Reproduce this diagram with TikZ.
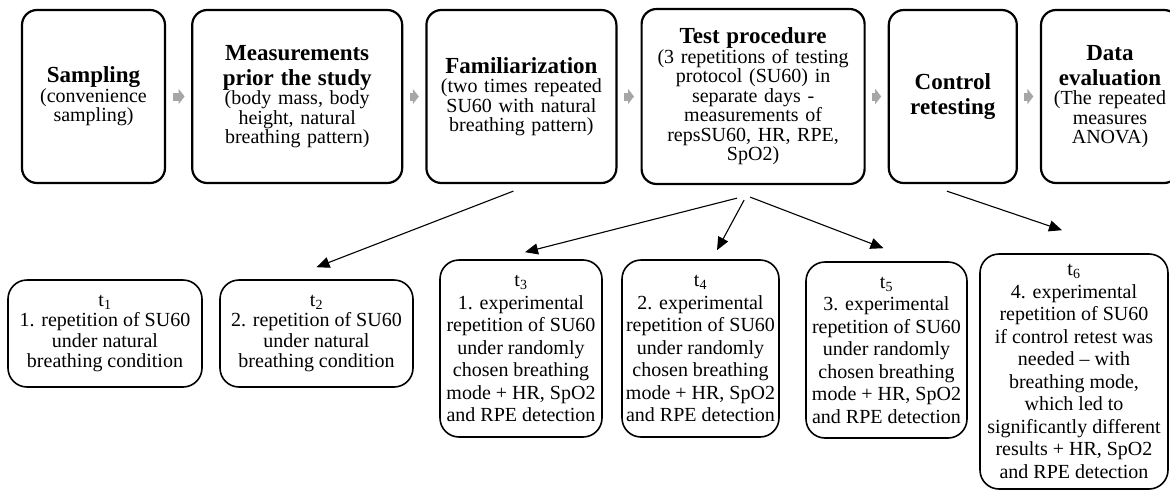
\documentclass[tikz,border=0pt]{standalone}
\usepackage{fontspec}
\setmainfont{Liberation Serif}
\usepackage{tikz}
\usetikzlibrary{arrows.meta, positioning}

\begin{document}
\begin{tikzpicture}[
    x=1pt, y=1pt,
    node distance=22pt,
    stage/.style={rectangle, draw=black, line width=2.2pt, rounded corners=15pt,
                  align=center, minimum height=173pt, inner sep=2pt,
                  font=\fontsize{20}{19.5}\selectfont},
    trial/.style={rectangle, draw=black, line width=1.6pt, rounded corners=19pt,
                  align=center, inner sep=2pt,
                  font=\fontsize{20}{22.5}\selectfont},
    flow/.style={-{Triangle[length=6pt,width=15pt]}, line width=8pt, black!35,
                 shorten <=6.5pt, shorten >=6.5pt},
    arrow/.style={-{Triangle[length=13pt,width=11pt]}, line width=1.1pt}
]
    \useasboundingbox (0,0) rectangle (1170,-490);

    % top row
    \node[stage, minimum width=143pt, text width=139pt] (sampling) at (93.5,-96.5)
        {{\fontsize{23}{25}\selectfont\bfseries Sampling\par}(convenience\\sampling)};
    \node[stage, minimum width=210pt, text width=206pt] (prior) [right=25pt of sampling]
        {{\fontsize{23}{25}\selectfont\bfseries Measurements\\prior the study\par}
         (body mass, body\\height, natural\\breathing pattern)};
    \node[stage, minimum width=190pt, text width=186pt] (famil) [right=of prior]
        {{\fontsize{23}{25}\selectfont\bfseries Familiarization\par}
         (two times repeated\\SU60 with natural\\breathing pattern)};
    \node[stage, minimum width=223pt, text width=219pt, minimum height=175pt] (test) [right=23pt of famil]
        {{\fontsize{23}{25}\selectfont\bfseries Test procedure\par}
         (3 repetitions of testing\\protocol (SU60) in\\separate days -\\
         measurements of\\repsSU60, HR, RPE,\\SpO2)};
    \node[stage, minimum width=128pt, text width=124pt] (control) [right=of test]
        {{\fontsize{23}{25}\selectfont\bfseries Control\\retesting\par}};
    \node[stage, minimum width=138pt, text width=134pt] (evalu) [right=of control]
        {{\fontsize{23}{25}\selectfont\bfseries Data\\evaluation\par}
         (The repeated\\measures\\ANOVA)};

    % bottom row
    \node[trial, minimum width=194pt, minimum height=107pt,
          font=\fontsize{20}{20.5}\selectfont] (t1) at (105,-333.5)
        {t\textsubscript{1}\\1. repetition of SU60\\under natural\\breathing condition};
    \node[trial, minimum width=193pt, minimum height=107pt,
          font=\fontsize{20}{20.5}\selectfont] (t2) at (316.5,-333.5)
        {t\textsubscript{2}\\2. repetition of SU60\\under natural\\breathing condition};
    \node[trial, minimum width=162pt, minimum height=177pt] (t3) at (521,-348.5)
        {t\textsubscript{3}\\1. experimental\\repetition of SU60\\under randomly\\
         chosen breathing\\mode + HR, SpO2\\and RPE detection};
    \node[trial, minimum width=157pt, minimum height=177pt] (t4) at (700.5,-348.5)
        {t\textsubscript{4}\\2. experimental\\repetition of SU60\\under randomly\\
         chosen breathing\\mode + HR, SpO2\\and RPE detection};
    \node[trial, minimum width=161pt, minimum height=176pt] (t5) at (886.5,-350)
        {t\textsubscript{5}\\3. experimental\\repetition of SU60\\under randomly\\
         chosen breathing\\mode + HR, SpO2\\and RPE detection};
    \node[trial, minimum width=188pt, minimum height=235pt] (t6) at (1074,-371.5)
        {t\textsubscript{6}\\4. experimental\\repetition of SU60\\if control retest was\\
         needed -- with\\breathing mode,\\which led to\\significantly different\\
         results + HR, SpO2\\and RPE detection};

    % process flow
    \draw[flow] (sampling) -- (prior);
    \draw[flow] (prior) -- (famil);
    \draw[flow] (famil) -- (test);
    \draw[flow] (test) -- (control);
    \draw[flow] (control) -- (evalu);

    % measurement points
    \draw[arrow] ([xshift=-8pt,yshift=-7pt]famil.south) -- ([yshift=12pt]t2.north);
    \draw[arrow] ([xshift=-16pt,yshift=-13pt]test.south) -- ([xshift=4pt,yshift=7pt]t3.north);
    \draw[arrow] ([xshift=-9pt,yshift=-15pt]test.south) -- ([xshift=16.5pt,yshift=9pt]t4.north);
    \draw[arrow] ([xshift=-3pt,yshift=-12pt]test.south) -- ([xshift=-3pt,yshift=13pt]t5.north);
    \draw[arrow] ([xshift=-6pt,yshift=-7pt]control.south) -- ([xshift=-12pt,yshift=23pt]t6.north);
\end{tikzpicture}
\end{document}
